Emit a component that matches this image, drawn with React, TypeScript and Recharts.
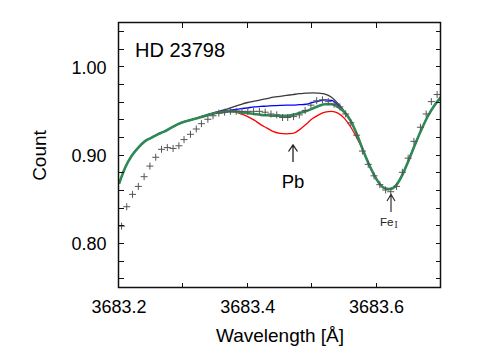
import React from 'react';
import { ComposedChart, Line, Scatter, XAxis, YAxis } from 'recharts';

// model wavelength grid (Å)
const modelWave = [
  3683.20, 3683.21, 3683.22, 3683.23, 3683.24, 3683.25, 3683.26, 3683.27, 3683.28, 3683.29,
  3683.30, 3683.31, 3683.32, 3683.33, 3683.34, 3683.35, 3683.36, 3683.37, 3683.38, 3683.39,
  3683.40, 3683.41, 3683.42, 3683.43, 3683.44, 3683.45, 3683.46, 3683.47, 3683.48, 3683.49,
  3683.50, 3683.51, 3683.52, 3683.53, 3683.54, 3683.55, 3683.56, 3683.57, 3683.58, 3683.59,
  3683.60, 3683.61, 3683.62, 3683.63, 3683.64, 3683.65, 3683.66, 3683.67, 3683.68, 3683.69,
  3683.70,
];

// best fit (green)
const fitGreen = [
  0.868, 0.887, 0.900, 0.909, 0.916, 0.920, 0.924, 0.927, 0.931, 0.935,
  0.938, 0.940, 0.942, 0.944, 0.946, 0.948, 0.949, 0.950, 0.950, 0.949,
  0.948, 0.947, 0.946, 0.9455, 0.945, 0.945, 0.945, 0.946, 0.948, 0.950,
  0.953, 0.956, 0.958, 0.958, 0.955, 0.949, 0.939, 0.923, 0.904, 0.887,
  0.873, 0.864, 0.862, 0.866, 0.878, 0.895, 0.913, 0.930, 0.945, 0.957,
  0.966,
];

const modelRed = [
  0.868, 0.887, 0.900, 0.909, 0.916, 0.920, 0.924, 0.927, 0.931, 0.935,
  0.938, 0.940, 0.942, 0.944, 0.946, 0.948, 0.949, 0.950, 0.9495, 0.947,
  0.944, 0.940, 0.935, 0.931, 0.927, 0.925, 0.9245, 0.925, 0.929, 0.935,
  0.9415, 0.946, 0.949, 0.950, 0.948, 0.942, 0.932, 0.919, 0.904, 0.887,
  0.873, 0.864, 0.862, 0.866, 0.878, 0.895, 0.913, 0.930, 0.945, 0.957,
  0.966,
];

const modelBlue = [
  0.868, 0.887, 0.900, 0.909, 0.916, 0.920, 0.924, 0.927, 0.931, 0.935,
  0.938, 0.940, 0.942, 0.944, 0.946, 0.948, 0.950, 0.951, 0.952, 0.953,
  0.954, 0.955, 0.9555, 0.956, 0.9565, 0.9568, 0.957, 0.957, 0.9575, 0.958,
  0.960, 0.9615, 0.963, 0.9625, 0.957, 0.949, 0.939, 0.923, 0.904, 0.887,
  0.873, 0.864, 0.862, 0.866, 0.878, 0.895, 0.913, 0.930, 0.945, 0.957,
  0.966,
];

const modelBlack = [
  0.868, 0.887, 0.900, 0.909, 0.916, 0.920, 0.924, 0.927, 0.931, 0.935,
  0.938, 0.940, 0.942, 0.945, 0.947, 0.949, 0.951, 0.953, 0.9555, 0.958,
  0.960, 0.9615, 0.963, 0.9645, 0.966, 0.967, 0.968, 0.969, 0.970, 0.9705,
  0.971, 0.9705, 0.9695, 0.966, 0.959, 0.950, 0.939, 0.923, 0.904, 0.887,
  0.873, 0.864, 0.862, 0.866, 0.878, 0.895, 0.913, 0.930, 0.945, 0.957,
  0.966,
];

// observed spectrum (+ markers)
const obsWave = [
  3683.204, 3683.212, 3683.221, 3683.230, 3683.239, 3683.248, 3683.257, 3683.266, 3683.275, 3683.284,
  3683.293, 3683.301, 3683.311, 3683.320, 3683.328, 3683.338, 3683.346, 3683.355, 3683.364, 3683.373,
  3683.382, 3683.391, 3683.400, 3683.409, 3683.418, 3683.427, 3683.436, 3683.445, 3683.454, 3683.462,
  3683.471, 3683.480, 3683.489, 3683.498, 3683.507, 3683.516, 3683.525, 3683.534, 3683.543, 3683.552,
  3683.560, 3683.569, 3683.578, 3683.587, 3683.596, 3683.605, 3683.614, 3683.622, 3683.631, 3683.640,
  3683.649, 3683.658, 3683.668, 3683.677, 3683.685, 3683.694,
];
const obsCount = [
  0.820, 0.842, 0.856, 0.865, 0.876, 0.888, 0.898, 0.907, 0.909, 0.908,
  0.911, 0.918, 0.924, 0.930, 0.936, 0.941, 0.945, 0.948, 0.949, 0.950,
  0.950, 0.950, 0.950, 0.950, 0.950, 0.949, 0.947, 0.946, 0.943, 0.943,
  0.944, 0.946, 0.951, 0.957, 0.962, 0.963, 0.961, 0.958, 0.955, 0.947,
  0.937, 0.923, 0.905, 0.890, 0.877, 0.867, 0.861, 0.859, 0.865, 0.881,
  0.897, 0.916, 0.932, 0.947, 0.961, 0.969,
];

const xTicks = [3683.2, 3683.3, 3683.4, 3683.5, 3683.6, 3683.7];
const xTickLabels = ['3683.2', '', '3683.4', '', '3683.6', ''];
const yTicks = [0.76, 0.78, 0.8, 0.82, 0.84, 0.86, 0.88, 0.9, 0.92, 0.94, 0.96, 0.98, 1.0, 1.02, 1.04];
const yTickLabels = ['', '', '0.80', '', '', '', '', '0.90', '', '', '', '', '1.00', '', ''];

const X_DOMAIN: [number, number] = [3683.2, 3683.7];
const Y_DOMAIN: [number, number] = [0.75, 1.05];

const W = 500;
const H = 350;
const M_TOP = 23;
const M_RIGHT = 59;
const Y_AXIS_W = 119;
const X_AXIS_H = 62;
// plot box, from the chart layout above
const PL = Y_AXIS_W;
const PR = W - M_RIGHT;
const PT = M_TOP;
const PB = H - X_AXIS_H;
const TICK_LEN = 5;

const FONT = '"Liberation Sans", Arial, Helvetica, sans-serif';
const FRAME = '#111';

const curves = modelWave.map((w, i) => ({
  w,
  green: fitGreen[i],
  red: modelRed[i],
  blue: modelBlue[i],
  black: modelBlack[i],
}));
const observed = obsWave.map((w, i) => ({ w, c: obsCount[i] }));

const PlusMark = (props: any) => {
  const { cx, cy } = props;
  if (cx == null || cy == null) return null;
  return (
    <path
      d={`M${cx - 3.5},${cy}H${cx + 3.5}M${cx},${cy - 3.5}V${cy + 3.5}`}
      stroke="#555"
      strokeWidth={1}
      fill="none"
    />
  );
};

// frame with inward ticks on all four sides
const Frame = () => {
  const tx = (v: number) => PL + ((v - X_DOMAIN[0]) / (X_DOMAIN[1] - X_DOMAIN[0])) * (PR - PL);
  const ty = (v: number) => PB - ((v - Y_DOMAIN[0]) / (Y_DOMAIN[1] - Y_DOMAIN[0])) * (PB - PT);
  const segs: string[] = [];
  xTicks.forEach((t) => {
    const x = Math.round(tx(t)) - 0.5;
    segs.push(`M${x},${PB}v${-TICK_LEN}M${x},${PT}v${TICK_LEN}`);
  });
  yTicks.forEach((t) => {
    const y = Math.round(ty(t)) - 0.5;
    segs.push(`M${PL},${y}h${TICK_LEN}M${PR},${y}h${-TICK_LEN}`);
  });
  return (
    <g>
      <path
        d={`M${PL - 0.5},${PT - 0.5}H${PR - 0.5}V${PB - 0.5}H${PL - 0.5}Z`}
        fill="none"
        stroke={FRAME}
        strokeWidth={1.5}
      />
      <path d={segs.join('')} stroke={FRAME} strokeWidth={1} fill="none" />
    </g>
  );
};

const App: React.FC = () => {
  const tickStyle = { fill: '#000', fontSize: 18, fontFamily: FONT };
  return (
    <div style={{ position: 'absolute', left: 0, top: 0, width: W, height: H, background: '#fff' }}>
      <ComposedChart
        width={W}
        height={H}
        data={curves}
        margin={{ top: M_TOP, right: M_RIGHT, bottom: 0, left: 0 }}
      >
        <XAxis
          dataKey="w"
          type="number"
          domain={X_DOMAIN}
          ticks={xTicks}
          interval={0}
          tickFormatter={(_v: number, i: number) => xTickLabels[i]}
          tickSize={-5}
          tickMargin={17.5}
          height={X_AXIS_H}
          axisLine={false}
          tickLine={false}
          tick={tickStyle}
          allowDataOverflow
        />
        <YAxis
          type="number"
          domain={Y_DOMAIN}
          ticks={yTicks}
          interval={0}
          tickFormatter={(_v: number, i: number) => yTickLabels[i]}
          tickSize={-5}
          tickMargin={17.5}
          width={Y_AXIS_W}
          axisLine={false}
          tickLine={false}
          tick={tickStyle}
          allowDataOverflow
        />
        <Line dataKey="black" type="monotone" stroke="#3a3a3a" strokeWidth={1.3} dot={false} isAnimationActive={false} />
        <Line dataKey="blue" type="monotone" stroke="#0000ff" strokeWidth={1.3} dot={false} isAnimationActive={false} />
        <Line dataKey="red" type="monotone" stroke="#ff0000" strokeWidth={1.3} dot={false} isAnimationActive={false} />
        <Line dataKey="green" type="monotone" stroke="#2e8b57" strokeWidth={2.6} dot={false} isAnimationActive={false} />
        <Scatter data={observed} dataKey="c" shape={PlusMark} isAnimationActive={false} />
      </ComposedChart>

      <svg
        width={W}
        height={H}
        style={{ position: 'absolute', left: 0, top: 0, pointerEvents: 'none' }}
        fontFamily={FONT}
      >
        <Frame />
        <text x={135} y={57.3} fontSize={20} fill="#000">HD 23798</text>
        <text x={46} y={155.5} fontSize={19} fill="#000" textAnchor="middle" transform="rotate(-90 46 155.5)">Count</text>
        <text x={280} y={341.5} fontSize={19} fill="#000" textAnchor="middle">Wavelength [Å]</text>

        {/* Pb line marker */}
        <path d="M293,145V162M288.5,151.5L293,145L297.5,151.5" stroke="#222" strokeWidth={1.3} fill="none" />
        <text x={293} y={188.3} fontSize={18.5} fill="#000" textAnchor="middle">Pb</text>

        {/* Fe I line marker */}
        <path d="M391,194.5V212M387,201L391,194.5L395,201" stroke="#333" strokeWidth={1.2} fill="none" />
        <text x={380} y={225.7} fontSize={11.6} fill="#222">
          Fe
          <tspan fontFamily='"Liberation Serif", "DejaVu Serif", serif' fontSize={9.5} dx={1} dy={2}>I</tspan>
        </text>
      </svg>
    </div>
  );
};

export default App;
